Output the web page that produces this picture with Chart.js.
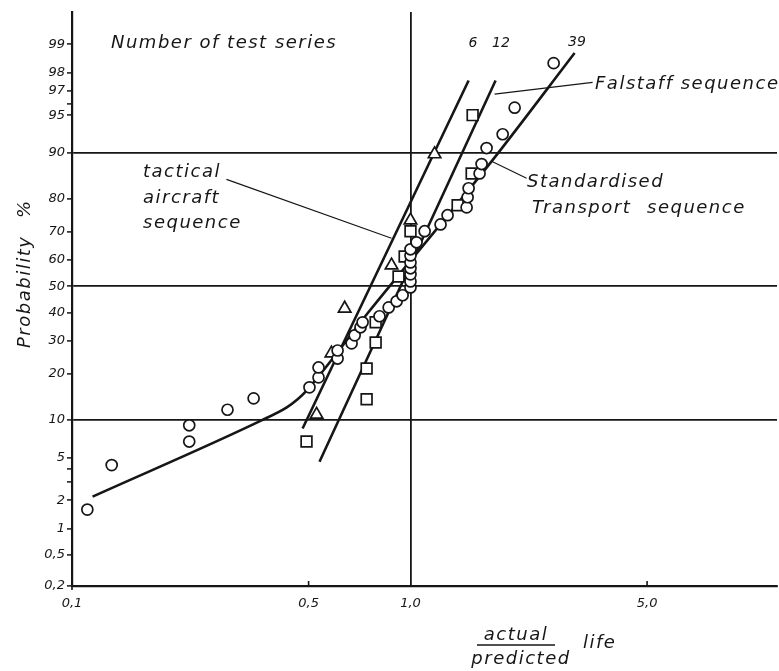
<!DOCTYPE html>
<html>
<head>
<meta charset="utf-8">
<script src="https://cdn.jsdelivr.net/npm/chart.js@4.4.1/dist/chart.umd.min.js"></script>
<style>
  html, body { margin: 0; padding: 0; background: #fff; }
  canvas { display: block; }
</style>
</head>
<body>
<canvas id="chart" width="779" height="671"></canvas>
<script>
// ---- Test results: actual / predicted life against cumulative probability (%) ----

// Standardised Transport sequence, 39 test series (circles)
const transportRatio = [0.111, 0.131, 0.222, 0.222, 0.288, 0.344, 0.503, 0.535, 0.535, 0.609,
                        0.609, 0.670, 0.684, 0.712, 0.722, 0.810, 0.862, 0.910, 0.948, 1.0,
                        1.0, 1.0, 1.0, 1.0, 1.0, 1.0, 1.042, 1.101, 1.227, 1.287,
                        1.465, 1.475, 1.485, 1.600, 1.622, 1.678, 1.872, 2.031, 2.648];
const transportProb  = [1.6, 4.3, 6.8, 9.1, 11.8, 14.1, 16.6, 19.1, 21.8, 24.4,
                        26.9, 29.2, 31.9, 34.7, 36.5, 38.7, 42.0, 44.3, 46.6, 49.6,
                        51.9, 54.6, 56.9, 59.1, 61.7, 63.9, 66.4, 70.2, 72.4, 75.3,
                        77.6, 80.4, 82.7, 86.1, 88.0, 90.8, 92.8, 95.7, 98.4];

// Falstaff sequence, 12 test series (squares)
const falstaffRatio = [0.493, 0.742, 0.742, 0.789, 0.789, 0.922, 0.961, 1.0, 1.378, 1.516, 1.526];
const falstaffProb  = [6.8, 13.9, 21.5, 29.5, 36.5, 53.8, 61.3, 70.2, 78.2, 86.1, 95.0];

// tactical aircraft sequence, 6 test series (triangles)
const tacticalRatio = [0.528, 0.584, 0.639, 0.879, 1.0, 1.178];
const tacticalProb  = [10.9, 26.0, 41.6, 58.0, 73.7, 89.8];

// fitted distribution lines
const transportFitRatio = [0.115, 0.363, 0.430, 0.464, 0.490, 0.747, 1.736, 3.054];
const transportFitProb  = [2.17, 9.9, 12.2, 13.9, 15.6, 39.8, 88.5, 98.75];
const falstaffFitRatio  = [0.5385, 1.784];
const falstaffFitProb   = [4.6, 97.6];
const tacticalFitRatio  = [0.480, 1.485];
const tacticalFitProb   = [8.6, 97.6];

// axes
const xTickValues = [0.1, 0.5, 1, 5];
const xTickLabels = ['0,1', '0,5', '1,0', '5,0'];
const xGridValues = [1];
const probTickValues = [0.2, 0.5, 1, 2, 3, 4, 5, 10, 20, 30, 40, 50, 60, 70, 80, 90, 95, 96, 97, 98, 99];
const probTickLabels = ['0,2', '0,5', '1', '2', '', '', '5', '10', '20', '30', '40', '50', '60', '70', '80', '90', '95', '', '97', '98', '99'];
const probGridValues = [10, 50, 90];
const xRange = [0.1, 12.1];
const probRange = [0.2, 99.58];

// series count labels
const seriesCounts = ['6', '12', '39'];

// inverse of the standard normal distribution (Acklam's approximation)
function probit(p) {
  const a = [-3.969683028665376e+01, 2.209460984245205e+02, -2.759285104469687e+02, 1.383577518672690e+02, -3.066479806614716e+01, 2.506628277459239e+00];
  const b = [-5.447609879822406e+01, 1.615858368580409e+02, -1.556989798598866e+02, 6.680131188771972e+01, -1.328068155288572e+01];
  const c = [-7.784894002430293e-03, -3.223964580411365e-01, -2.400758277161838e+00, -2.549732539343734e+00, 4.374664141464968e+00, 2.938163982698783e+00];
  const d = [7.784695709041462e-03, 3.224671290700398e-01, 2.445134137142996e+00, 3.754408661907416e+00];
  const pl = 0.02425, ph = 1 - pl;
  let q, r;
  if (p < pl) {
    q = Math.sqrt(-2 * Math.log(p));
    return (((((c[0]*q+c[1])*q+c[2])*q+c[3])*q+c[4])*q+c[5]) / ((((d[0]*q+d[1])*q+d[2])*q+d[3])*q+1);
  }
  if (p <= ph) {
    q = p - 0.5; r = q * q;
    return (((((a[0]*r+a[1])*r+a[2])*r+a[3])*r+a[4])*r+a[5])*q / (((((b[0]*r+b[1])*r+b[2])*r+b[3])*r+b[4])*r+1);
  }
  q = Math.sqrt(-2 * Math.log(1 - p));
  return -(((((c[0]*q+c[1])*q+c[2])*q+c[3])*q+c[4])*q+c[5]) / ((((d[0]*q+d[1])*q+d[2])*q+d[3])*q+1);
}
const toZ = pct => probit(pct / 100);
const points = (xs, ps) => xs.map((x, i) => ({ x, y: toZ(ps[i]) }));

const ink = '#161616';
const FAMILY = '"DejaVu Sans", "Liberation Sans", sans-serif';
const italic = size => `italic ${size}px ${FAMILY}`;

// leader lines from the labels to the fitted lines (data units: ratio, %)
const leaders = [
  { from: [0.286, 84.8], to: [0.879, 67.8] },
  { from: [3.452, 97.5], to: [1.772, 96.76] },
  { from: [2.203, 85.05], to: [1.736, 88.53] }
];

// free text on the chart (pixel layout)
const notes = [
  { text: 'Number of test series', x: 111, y: 48, size: 18 },
  { text: seriesCounts[0], x: 473, y: 47, size: 14, align: 'center', spacing: 0 },
  { text: seriesCounts[1], x: 501, y: 47, size: 14, align: 'center', spacing: 0 },
  { text: seriesCounts[2], x: 577, y: 46, size: 14, align: 'center', spacing: 0 },
  { text: 'Falstaff sequence', x: 595, y: 89, size: 18 },
  { text: 'tactical', x: 143, y: 177, size: 18 },
  { text: 'aircraft', x: 143, y: 203, size: 18 },
  { text: 'sequence', x: 143, y: 228, size: 18 },
  { text: 'Standardised', x: 527, y: 187, size: 18 },
  { text: 'Transport', x: 532, y: 213, size: 18 },
  { text: 'sequence', x: 647, y: 213, size: 18 }
];

function drawText(ctx, t, x, y, size, align, spacing) {
  ctx.font = italic(size);
  if ('letterSpacing' in ctx) ctx.letterSpacing = (spacing === undefined ? 1.5 : spacing) + 'px';
  ctx.textAlign = align || 'left';
  ctx.textBaseline = 'alphabetic';
  ctx.fillText(t, x, y);
}

const decorations = {
  id: 'decorations',
  afterDraw(chart) {
    const { ctx, scales: { x, y }, chartArea } = chart;
    ctx.save();
    ctx.strokeStyle = ink;
    ctx.fillStyle = ink;

    // leader lines
    ctx.lineWidth = 1.1;
    leaders.forEach(l => {
      ctx.beginPath();
      ctx.moveTo(x.getPixelForValue(l.from[0]), y.getPixelForValue(toZ(l.from[1])));
      ctx.lineTo(x.getPixelForValue(l.to[0]), y.getPixelForValue(toZ(l.to[1])));
      ctx.stroke();
    });

    // short inward tick marks on the ratio axis
    ctx.lineWidth = 1.6;
    [0.5, 5].forEach(v => {
      const px = x.getPixelForValue(v);
      ctx.beginPath();
      ctx.moveTo(px, chartArea.bottom);
      ctx.lineTo(px, chartArea.bottom - 5);
      ctx.stroke();
    });
    ctx.beginPath();
    ctx.moveTo(chartArea.left, chartArea.bottom);
    ctx.lineTo(chartArea.left, chartArea.bottom + 4);
    ctx.stroke();

    // annotations
    notes.forEach(n => drawText(ctx, n.text, n.x, n.y, n.size, n.align, n.spacing));

    // axis title: actual / predicted life
    drawText(ctx, 'actual', 516, 640, 18, 'center');
    drawText(ctx, 'predicted', 521, 664, 18, 'center');
    drawText(ctx, 'life', 583, 648, 18, 'left');
    ctx.lineWidth = 1.6;
    ctx.beginPath();
    ctx.moveTo(477, 645);
    ctx.lineTo(555, 645);
    ctx.stroke();

    // axis title: Probability %
    ctx.save();
    ctx.translate(30, 348);
    ctx.rotate(-Math.PI / 2);
    drawText(ctx, 'Probability', 0, 0, 18, 'left');
    drawText(ctx, '%', 130, 0, 18, 'left');
    ctx.restore();

    ctx.restore();
  }
};

const lineStyle = { showLine: true, borderColor: ink, borderWidth: 2.6, pointRadius: 0, pointHoverRadius: 0, fill: false, order: 5 };
const markStyle = { showLine: false, borderColor: ink, backgroundColor: '#fff', pointBackgroundColor: '#fff', pointBorderColor: ink, pointBorderWidth: 1.7, order: 1 };

new Chart(document.getElementById('chart'), {
  type: 'scatter',
  data: {
    datasets: [
      { ...lineStyle, label: 'Standardised Transport sequence (fit)', data: points(transportFitRatio, transportFitProb), cubicInterpolationMode: 'monotone' },
      { ...lineStyle, label: 'Falstaff sequence (fit)', data: points(falstaffFitRatio, falstaffFitProb), tension: 0 },
      { ...lineStyle, label: 'tactical aircraft sequence (fit)', data: points(tacticalFitRatio, tacticalFitProb), tension: 0 },
      { ...markStyle, label: 'Standardised Transport sequence', data: points(transportRatio, transportProb), pointStyle: 'circle', pointRadius: 5.5 },
      { ...markStyle, label: 'Falstaff sequence', data: points(falstaffRatio, falstaffProb), pointStyle: 'rect', pointRadius: 7.6 },
      { ...markStyle, label: 'tactical aircraft sequence', data: points(tacticalRatio, tacticalProb), pointStyle: 'triangle', pointRadius: 7.2 }
    ]
  },
  options: {
    responsive: false,
    animation: false,
    devicePixelRatio: 1,
    layout: { autoPadding: false, padding: { top: 12, right: 2, left: 0, bottom: 0 } },
    plugins: { legend: { display: false }, tooltip: { enabled: false } },
    scales: {
      x: {
        type: 'logarithmic',
        min: xRange[0],
        max: xRange[1],
        afterFit(s) { s.height = 85; },
        afterBuildTicks(s) { s.ticks = xTickValues.map(v => ({ value: v })); },
        ticks: {
          autoSkip: false, maxRotation: 0, padding: 10, color: ink,
          font: { family: FAMILY, size: 13, style: 'italic' },
          callback: (v, i) => xTickLabels[i]
        },
        grid: {
          drawTicks: false,
          lineWidth: 1.8,
          color: c => (c.tick && xGridValues.includes(xTickValues[c.index])) ? ink : 'rgba(0,0,0,0)'
        },
        border: { display: true, color: ink, width: 2.2 }
      },
      y: {
        type: 'linear',
        min: toZ(probRange[0]),
        max: toZ(probRange[1]),
        afterFit(s) { s.width = 72; },
        afterBuildTicks(s) { s.ticks = probTickValues.map(v => ({ value: toZ(v) })); },
        ticks: {
          autoSkip: false, padding: 2, color: ink,
          font: { family: FAMILY, size: 13, style: 'italic' },
          callback: (v, i) => probTickLabels[i]
        },
        grid: {
          lineWidth: 1.8,
          tickLength: 5,
          tickWidth: 1.5,
          tickColor: ink,
          color: c => (c.tick && probGridValues.includes(probTickValues[c.index])) ? ink : 'rgba(0,0,0,0)'
        },
        border: { display: true, color: ink, width: 2.2 }
      }
    }
  },
  plugins: [decorations]
});
</script>
</body>
</html>
